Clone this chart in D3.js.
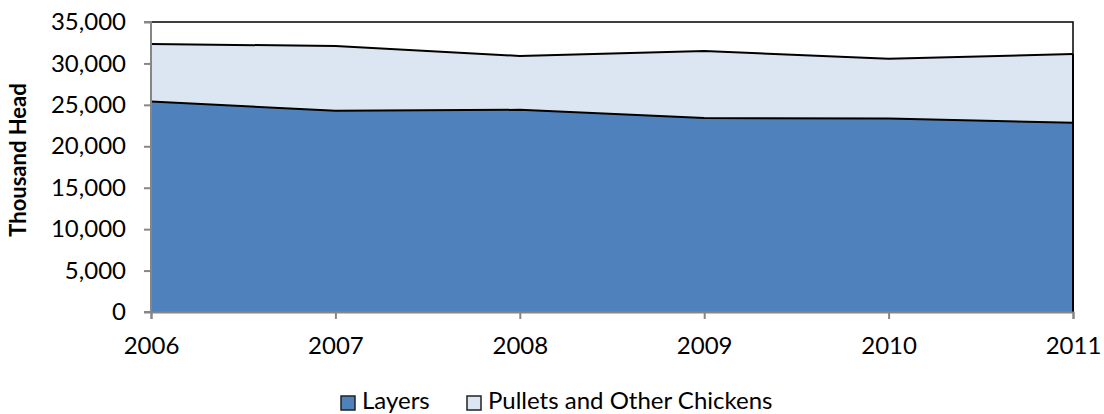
<!DOCTYPE html>
<html><head><meta charset="utf-8">
<script src="https://cdn.jsdelivr.net/npm/d3@7"></script>
<style>body{margin:0;background:#fff}svg{display:block}text{font-family:Lato,"Open Sans",sans-serif}</style>
</head><body><svg id="c" width="1104" height="414"></svg>
<script>
const years = [2006, 2007, 2008, 2009, 2010, 2011];
const layers = [25400, 24300, 24400, 23400, 23350, 22850];
const pullets = [6950, 7800, 6500, 8100, 7200, 8300];
const seriesNames = ["Layers", "Pullets and Other Chickens"];
const seriesColors = ["#4F81BD", "#DCE6F2"];
const yTicks = [0, 5000, 10000, 15000, 20000, 25000, 30000, 35000];

const svg = d3.select("#c");
const m = {l:151, r:1073, t:22, b:312};
const x = d3.scalePoint().domain(years).range([m.l, m.r]);
const y = d3.scaleLinear().domain([0, 35000]).range([m.b, m.t]);

const rows = years.map((yr,i)=>({year:yr, Layers:layers[i], "Pullets and Other Chickens":pullets[i]}));
const stack = d3.stack().keys(seriesNames)(rows);

// plot border
svg.append("rect").attr("x",m.l).attr("y",m.t).attr("width",m.r-m.l).attr("height",m.b-m.t)
  .attr("fill","none").attr("stroke","#000").attr("stroke-width",1.5);

const area = d3.area().x(d=>x(d.data.year)).y0(d=>y(d[0])).y1(d=>y(d[1]));
const line = d3.line().x(d=>x(d.data.year)).y(d=>y(d[1]));
stack.forEach((s,i)=>{
  svg.append("path").attr("d",area(s)).attr("fill",seriesColors[i]);
});
stack.forEach((s,i)=>{
  svg.append("path").attr("d",line(s)).attr("fill","none").attr("stroke","#000").attr("stroke-width",2);
  const last = s[s.length-1];
  svg.append("line").attr("x1",x(last.data.year)).attr("x2",x(last.data.year))
    .attr("y1",y(last[0])).attr("y2",y(last[1])).attr("stroke","#000").attr("stroke-width",2);
});

// axes
const yAxis = svg.append("g").attr("transform",`translate(${m.l},0)`)
  .call(d3.axisLeft(y).tickValues(yTicks).tickSize(7).tickPadding(18).tickFormat(d3.format(",")));
const xAxis = svg.append("g").attr("transform",`translate(0,${m.b})`)
  .call(d3.axisBottom(x).tickSize(7).tickPadding(18).tickFormat(d=>d));
[yAxis,xAxis].forEach(g=>{
  g.selectAll("path,line").attr("stroke","#868686").attr("stroke-width",2);
  g.selectAll("text").attr("fill","#000").style("font-size","24px");
});
yAxis.select(".domain").attr("d",`M-7,${m.t}H0V${m.b}H-7`);

// y title
svg.append("text").attr("transform",`translate(26,160) rotate(-90)`)
  .attr("text-anchor","middle").style("font-size","22px").style("font-weight","bold").text("Thousand Head");

// legend
const lg = [{x:341, tx:362},{x:467, tx:488}];
seriesNames.forEach((n,i)=>{
  svg.append("rect").attr("x",lg[i].x).attr("y",396).attr("width",14).attr("height",14)
    .attr("fill",seriesColors[i]).attr("stroke","#222").attr("stroke-width",1.5);
  svg.append("text").attr("x",lg[i].tx).attr("y",409).style("font-size","24px").text(n);
});
</script></body></html>
